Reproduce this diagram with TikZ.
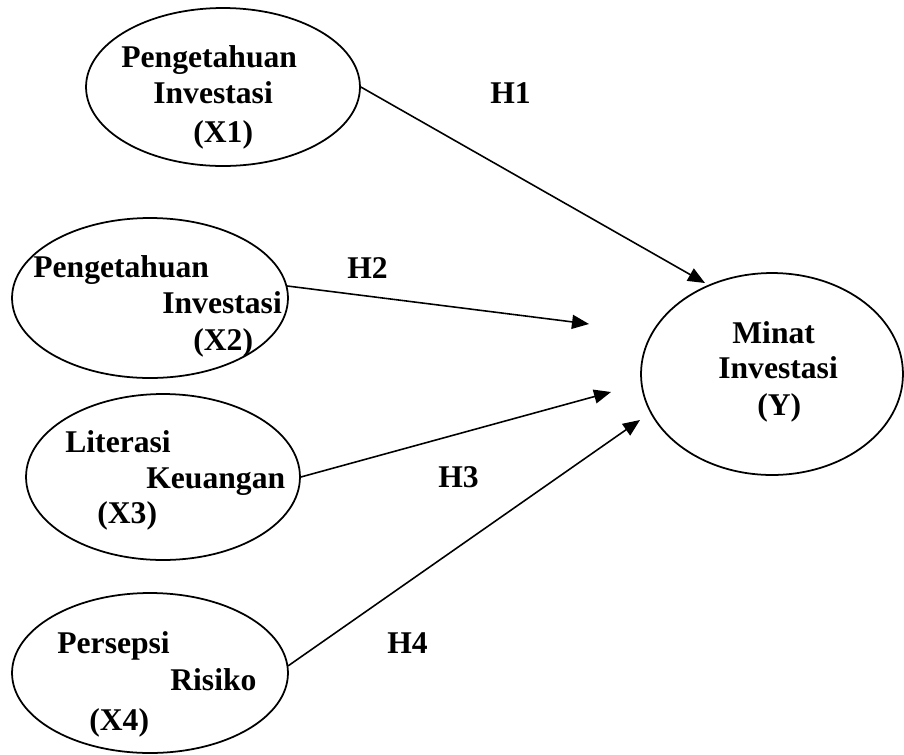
\documentclass[tikz,border=0pt]{standalone}
\usepackage{fontspec}
\setmainfont{Liberation Serif}
\usetikzlibrary{shapes.geometric,arrows.meta}

\tikzset{
  latent/.style={draw, ellipse, line width=1pt, inner sep=0pt},
  txt/.style={anchor=base west, inner sep=0pt, font=\fontsize{18}{21}\selectfont\bfseries},
  path/.style={line width=0.9pt, -{Triangle[length=0.34cm,width=0.28cm]}}
}

\begin{document}
\begin{tikzpicture}[line cap=round,line join=round,x=0.02cm,y=-0.02cm]
		\useasboundingbox (0,0) rectangle (904,755);
		% latent variables
		\node[latent, minimum width=5.48cm, minimum height=3.16cm] (X1) at (223,87) {};
		\node[latent, minimum width=5.52cm, minimum height=3.2cm] (X2) at (150,298) {};
		\node[latent, minimum width=5.48cm, minimum height=3.32cm] (X3) at (163,477) {};
		\node[latent, minimum width=5.52cm, minimum height=3.2cm] (X4) at (150,673) {};
		\node[latent, minimum width=5.24cm, minimum height=4.04cm] (Y) at (772,374) {};
		% arrow ends
		\coordinate (h1) at (705,283);
		\coordinate (h2) at (589,324);
		\coordinate (h3) at (611,392);
		\coordinate (h4) at (640,420);
		\draw[path] (X1.east) -- (h1);
		\draw[path] (X2.5) -- (h2);
		\draw[path] (X3.east) -- (h3);
		\draw[path] (X4.3) -- (h4);
		% texts
		\node[txt] (x1a) at (121,67) {Pengetahuan};
		\node[txt] (x1b) at (153,103) {Investasi};
		\node[txt] (x1c) at (193,142) {(X1)};
		\node[txt] (x2a) at (33,277) {Pengetahuan};
		\node[txt] (x2b) at (162,313) {Investasi};
		\node[txt] (x2c) at (193,350) {(X2)};
		\node[txt] (x3a) at (65,452) {Literasi};
		\node[txt] (x3b) at (146,488) {Keuangan};
		\node[txt] (x3c) at (97,523) {(X3)};
		\node[txt] (x4a) at (57,653) {Persepsi};
		\node[txt] (x4b) at (170,690) {Risiko};
		\node[txt] (x4c) at (89,730) {(X4)};
		\node[txt] (ya) at (732,343) {Minat};
		\node[txt] (yb) at (718,378) {Investasi};
		\node[txt] (yc) at (757,415) {(Y)};
		% hypotheses
		\node[txt] (H1) at (490,103) {H1};
		\node[txt] (H2) at (347,278) {H2};
		\node[txt] (H3) at (438,487) {H3};
		\node[txt] (H4) at (387,653) {H4};
	\end{tikzpicture}
\end{document}
